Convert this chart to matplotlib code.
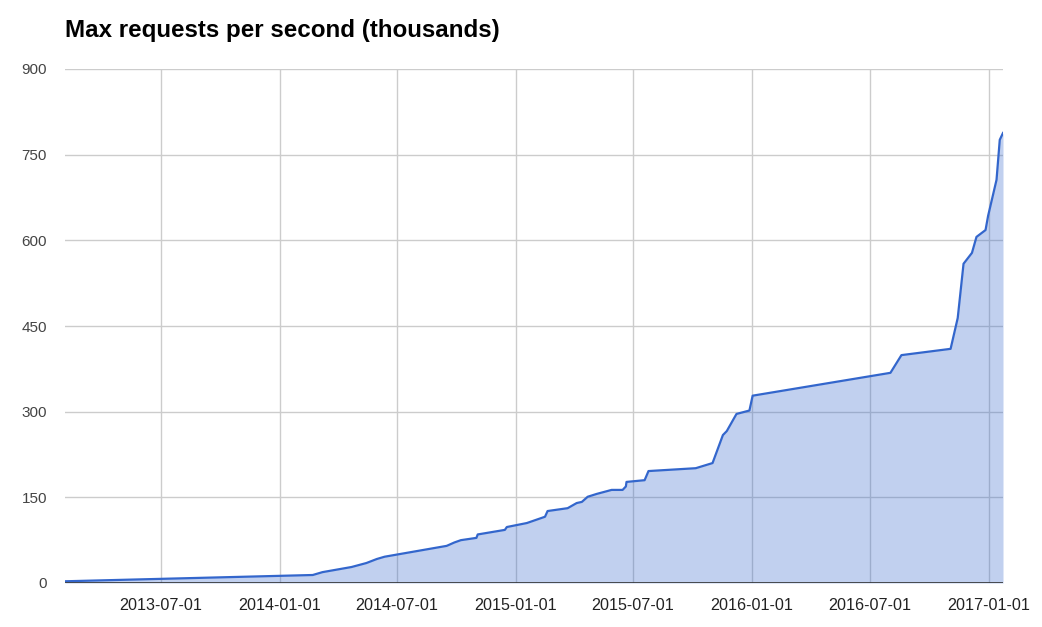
import matplotlib
matplotlib.use("Agg")
import matplotlib.pyplot as plt
import matplotlib.dates as mdates
import pandas as pd

plt.rcParams['font.family'] = ['Liberation Sans', 'DejaVu Sans']

dates = [
    "2013-02-03", "2014-02-21", "2014-03-08", "2014-04-22", "2014-05-15",
    "2014-05-31", "2014-06-12", "2014-09-16", "2014-09-28", "2014-10-08",
    "2014-11-01", "2014-11-03", "2014-12-15", "2014-12-18", "2015-01-18",
    "2015-02-15", "2015-02-19", "2015-03-22", "2015-04-05", "2015-04-13",
    "2015-04-22", "2015-05-06", "2015-05-29", "2015-06-15", "2015-06-20",
    "2015-06-21", "2015-07-19", "2015-07-25", "2015-10-06", "2015-11-01",
    "2015-11-17", "2015-11-23", "2015-12-08", "2015-12-28", "2016-01-02",
    "2016-08-02", "2016-08-19", "2016-11-03", "2016-11-14", "2016-11-23",
    "2016-12-06", "2016-12-13", "2016-12-27", "2016-12-31", "2017-01-13",
    "2017-01-18", "2017-01-23",
]
values = [
    3, 14, 19, 28, 35,
    42, 46, 65, 71, 75,
    79, 85, 93, 98, 105,
    116, 126, 131, 140, 142,
    151, 156, 163, 163, 169,
    177, 180, 196, 201, 210,
    259, 266, 296, 302, 328,
    368, 399, 410, 464, 559,
    578, 606, 618, 643, 706,
    776, 788,
]

y_ticks = [0, 150, 300, 450, 600, 750, 900]
x_ticks = ["2013-07-01", "2014-01-01", "2014-07-01", "2015-01-01",
           "2015-07-01", "2016-01-01", "2016-07-01", "2017-01-01"]
title = "Max requests per second (thousands)"

x = pd.to_datetime(dates)
line_color = "#3366cc"

fig = plt.figure(figsize=(10.42, 6.27), dpi=100)
ax = fig.add_axes([65/1042, 1 - 583/627, (1003 - 65)/1042, (583 - 69)/627])

ax.fill_between(x, values, 0, color=line_color, alpha=0.3, linewidth=0, zorder=2)
ax.plot(x, values, color=line_color, linewidth=1.6, zorder=3, solid_joinstyle='round')

ax.set_xlim(x[0], x[-1])
ax.set_ylim(0, 900)
ax.set_yticks(y_ticks)
ax.set_xticks(pd.to_datetime(x_ticks))
ax.xaxis.set_major_formatter(mdates.DateFormatter("%Y-%m-%d"))

ax.grid(True, color="#cccccc", linewidth=1, zorder=1)
ax.set_axisbelow(True)
for s in ax.spines.values():
    s.set_visible(False)
ax.axhline(0, color="#333333", linewidth=1.2, zorder=4)

ax.tick_params(axis='both', length=0)
ax.tick_params(axis='y', pad=13, labelcolor="#444444", labelsize=11)
ax.tick_params(axis='x', pad=10.5, labelcolor="#222222", labelsize=11.6)

fig.text(65/1042, 1 - 30/627, title, fontsize=17.4, fontweight='bold',
         ha='left', va='center', color="#000000")

fig.savefig("out.png", dpi=100)
